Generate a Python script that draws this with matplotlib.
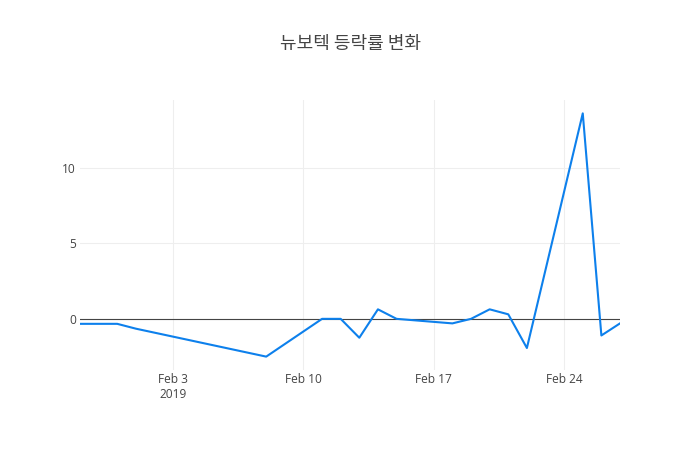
import numpy as np
import pandas as pd
import matplotlib
matplotlib.use('Agg')
import matplotlib.pyplot as plt

plt.rcParams['font.family'] = ['Open Sans', 'Noto Sans CJK KR', 'DejaVu Sans']

# 날짜와 등락률(%)
dates = ['2019-01-29', '2019-01-30', '2019-01-31', '2019-02-01', '2019-02-08',
         '2019-02-11', '2019-02-12', '2019-02-13', '2019-02-14', '2019-02-15',
         '2019-02-18', '2019-02-19', '2019-02-20', '2019-02-21', '2019-02-22',
         '2019-02-25', '2019-02-26', '2019-02-27']
rates = [-0.33, -0.33, -0.33, -0.65, -2.5,
         0.0, 0.0, -1.25, 0.63, 0.0,
         -0.3, 0.0, 0.63, 0.3, -1.93,
         13.6, -1.1, -0.3]
tick_dates = ['2019-02-03', '2019-02-10', '2019-02-17', '2019-02-24']
tick_labels = ['Feb 3\n2019', 'Feb 10', 'Feb 17', 'Feb 24']
title = '뉴보텍 등락률 변화'

x = pd.to_datetime(dates)
y = np.array(rates)

fig = plt.figure(figsize=(7, 4.5), dpi=100)
ax = fig.add_axes([80/700, 80/450, 540/700, 270/450])

ax.plot(x, y, color='#0d80ec', lw=1.5, zorder=3)
ax.axhline(0, color='#444444', lw=0.8, zorder=2)

ax.set_xlim(x[0], x[-1])
span = y.max() - y.min()
ax.set_ylim(y.min() - 0.055*span, y.max() + 0.055*span)

ax.set_xticks(pd.to_datetime(tick_dates))
ax.set_xticklabels(tick_labels)
ax.set_yticks([0, 5, 10])
ax.set_yticklabels(['0', '5', '10'])

ax.grid(True, color='#eeeeee', lw=0.8, zorder=0)
ax.set_axisbelow(True)
for s in ax.spines.values():
	s.set_visible(False)
ax.tick_params(length=0, labelsize=8.6, colors='#444444', pad=3)
ax.tick_params(axis='x', pad=2)

fig.text(0.5, 1 - 44/450, title, ha='center', va='center', fontsize=13,
         color='#444444', family=['Noto Sans CJK KR', 'DejaVu Sans'])

fig.savefig('out.png', dpi=100)
